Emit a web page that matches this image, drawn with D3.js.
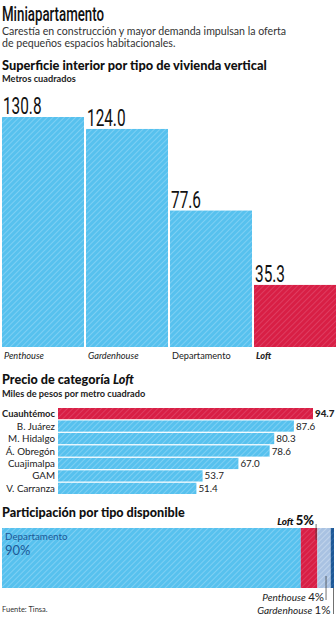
<!DOCTYPE html>
<html><head><meta charset="utf-8">
<script src="https://cdn.jsdelivr.net/npm/d3@7"></script>
<style>
body{margin:0;background:#fff;}
svg{display:block;}
text{font-family:Lato,"Open Sans",sans-serif;}
.narrow{font-family:Roboto,"Liberation Sans",sans-serif;}
</style></head>
<body>
<script>
// Data
const typeCategories = ["Penthouse","Gardenhouse","Departamento","Loft"];
const typeSurface = [130.8,124.0,77.6,35.3];
const boroughs = ["Cuauhtémoc","B. Juárez","M. Hidalgo","Á. Obregón","Cuajimalpa","GAM","V. Carranza"];
const loftPrice = [94.7,87.6,80.3,78.6,67.0,53.7,51.4];
const shareCategories = ["Departamento","Loft","Penthouse","Gardenhouse"];
const shareValues = [90,5,4,1];

const W=336,H=620;
const svg=d3.select("body").append("svg").attr("width",W).attr("height",H);
const defs=svg.append("defs");
function hatch(id,bg,line){
  const p=defs.append("pattern").attr("id",id).attr("patternUnits","userSpaceOnUse")
    .attr("width",4).attr("height",4).attr("patternTransform","rotate(45)");
  p.append("rect").attr("width",4).attr("height",4).attr("fill",bg);
  p.append("line").attr("x1",0.5).attr("y1",0).attr("x2",0.5).attr("y2",4).attr("stroke",line).attr("stroke-width",0.8);
}
hatch("hBlue","#57c1ee","#86d3f4");
hatch("hRed","#d81f45","#e04467");
hatch("hGray","#a9c2e2","#c8d8ee");
hatch("hDark","#1d5896","#2f6aa8");

// Header
svg.append("text").attr("class","narrow").attr("x",2).attr("y",21).attr("font-size",21).attr("font-weight",500).attr("fill","#111")
  .attr("textLength",102).attr("lengthAdjust","spacingAndGlyphs").text("Miniapartamento");
svg.append("text").attr("x",2).attr("y",34.5).attr("font-size",10.6).attr("fill","#333").text("Carestía en construcción y mayor demanda impulsan la oferta");
svg.append("text").attr("x",2).attr("y",46.5).attr("font-size",10.6).attr("fill","#333").text("de pequeños espacios habitacionales.");

svg.append("text").attr("x",2).attr("y",70).attr("font-size",12.8).attr("font-weight",900).attr("fill","#111").text("Superficie interior por tipo de vivienda vertical");
svg.append("text").attr("x",2).attr("y",82).attr("font-size",9.2).attr("font-weight",700).attr("fill","#222").text("Metros cuadrados");

// Vertical bars
const xb=d3.scaleBand().domain(typeCategories).range([2,336]).paddingInner(0.024).paddingOuter(0);
const yb=d3.scaleLinear().domain([0,130.8]).range([347,117]);
const g1=svg.append("g");
g1.selectAll("rect").data(typeCategories).join("rect")
  .attr("x",d=>xb(d)).attr("width",xb.bandwidth())
  .attr("y",(d,i)=>yb(typeSurface[i])).attr("height",(d,i)=>yb(0)-yb(typeSurface[i]))
  .attr("fill",d=>d==="Loft"?"url(#hRed)":"url(#hBlue)");
g1.selectAll("g.val").data(typeCategories).join("g").attr("class","val")
  .attr("transform",(d,i)=>`translate(${xb(d)+1},${yb(typeSurface[i])-3}) scale(0.64,1)`)
  .append("text").attr("class","narrow").attr("font-size",24).attr("fill","#111")
  .text((d,i)=>typeSurface[i].toFixed(1));
g1.selectAll("text.cat").data(typeCategories).join("text").attr("class","cat")
  .attr("x",d=>xb(d)+2).attr("y",359).attr("font-size",9.2).attr("fill","#222")
  .attr("font-style",d=>d==="Departamento"?"normal":"italic")
  .attr("font-weight",d=>d==="Loft"?900:400)
  .text(d=>d);

// Horizontal bars
const t2=svg.append("text").attr("x",2).attr("y",384).attr("font-size",12.6).attr("font-weight",900).attr("fill","#111");
t2.append("tspan").text("Precio de categoría ");
t2.append("tspan").attr("font-style","italic").text("Loft");
svg.append("text").attr("x",2).attr("y",397).attr("font-size",9.2).attr("font-weight",700).attr("fill","#222").text("Miles de pesos por metro cuadrado");

const yh=d3.scaleBand().domain(boroughs).range([408,494]).paddingInner(0.1);
const xh=d3.scaleLinear().domain([0,94.7]).range([58,313]);
const g2=svg.append("g");
g2.selectAll("rect").data(boroughs).join("rect")
  .attr("x",xh(0)).attr("y",d=>yh(d)).attr("height",yh.bandwidth())
  .attr("width",(d,i)=>xh(loftPrice[i])-xh(0))
  .attr("fill",(d,i)=>i===0?"url(#hRed)":"url(#hBlue)");
g2.selectAll("text.lab").data(boroughs).join("text").attr("class","lab")
  .attr("x",55).attr("y",d=>yh(d)+yh.bandwidth()/2).attr("dy","0.36em")
  .attr("text-anchor","end").attr("font-size",(d,i)=>i===0?9.4:9.8).attr("fill","#222")
  .attr("font-weight",(d,i)=>i===0?700:400).text(d=>d);
g2.selectAll("text.v").data(boroughs).join("text").attr("class","v")
  .attr("x",(d,i)=>xh(loftPrice[i])+2).attr("y",d=>yh(d)+yh.bandwidth()/2).attr("dy","0.36em")
  .attr("font-size",9.8).attr("fill","#222")
  .attr("font-weight",(d,i)=>i===0?900:400).text((d,i)=>loftPrice[i].toFixed(1));

// Stacked share bar
svg.append("text").attr("x",2).attr("y",517).attr("font-size",12.6).attr("font-weight",900).attr("fill","#111").text("Participación por tipo disponible");
const xs=d3.scaleLinear().domain([0,100]).range([2,334]);
let cum=0;
const segs=shareCategories.map((c,i)=>{const s={c,v:shareValues[i],x0:cum};cum+=shareValues[i];s.x1=cum;return s;});
const fills={"Departamento":"url(#hBlue)","Loft":"url(#hRed)","Penthouse":"url(#hGray)","Gardenhouse":"url(#hDark)"};
const g3=svg.append("g");
g3.selectAll("rect").data(segs).join("rect")
  .attr("x",d=>xs(d.x0)).attr("width",d=>xs(d.x1)-xs(d.x0))
  .attr("y",528).attr("height",60).attr("fill",d=>fills[d.c]);
svg.append("text").attr("x",5).attr("y",540).attr("font-size",9.8).attr("fill","#1d5896").text(shareCategories[0]);
svg.append("text").attr("x",5).attr("y",555).attr("font-size",13).attr("fill","#1d5896").text(shareValues[0]+"%");

// Labels with leaders
const loftSeg=segs[1], phSeg=segs[2], gdSeg=segs[3];
const lx=(xs(loftSeg.x0)+xs(loftSeg.x1))/2+7;
svg.append("line").attr("x1",lx).attr("x2",lx).attr("y1",524).attr("y2",540).attr("stroke","#333").attr("stroke-width",0.7);
const tl=svg.append("text").attr("x",lx-2).attr("y",525).attr("text-anchor","end").attr("fill","#111");
tl.append("tspan").attr("font-size",10).attr("font-style","italic").attr("font-weight",900).text(loftSeg.c+" ");
tl.append("tspan").attr("font-size",13).attr("font-weight",900).text(loftSeg.v+"%");

const px=(xs(phSeg.x0)+xs(phSeg.x1))/2+2;
svg.append("line").attr("x1",px).attr("x2",px).attr("y1",576).attr("y2",600).attr("stroke","#333").attr("stroke-width",0.7);
const tp=svg.append("text").attr("x",px-2).attr("y",601).attr("text-anchor","end").attr("fill","#222");
tp.append("tspan").attr("font-size",10).attr("font-style","italic").text(phSeg.c+" ");
tp.append("tspan").attr("font-size",11.5).text(phSeg.v+"%");

const gx=xs(gdSeg.x1)-0.5;
svg.append("line").attr("x1",gx).attr("x2",gx).attr("y1",588).attr("y2",614).attr("stroke","#333").attr("stroke-width",0.7);
const tg=svg.append("text").attr("x",gx-3).attr("y",614).attr("text-anchor","end").attr("fill","#222");
tg.append("tspan").attr("font-size",10).attr("font-style","italic").text(gdSeg.c+" ");
tg.append("tspan").attr("font-size",11.5).text(gdSeg.v+"%");

svg.append("text").attr("x",2).attr("y",612).attr("font-size",7.5).attr("fill","#333").text("Fuente: Tinsa.");
</script>
</body></html>
